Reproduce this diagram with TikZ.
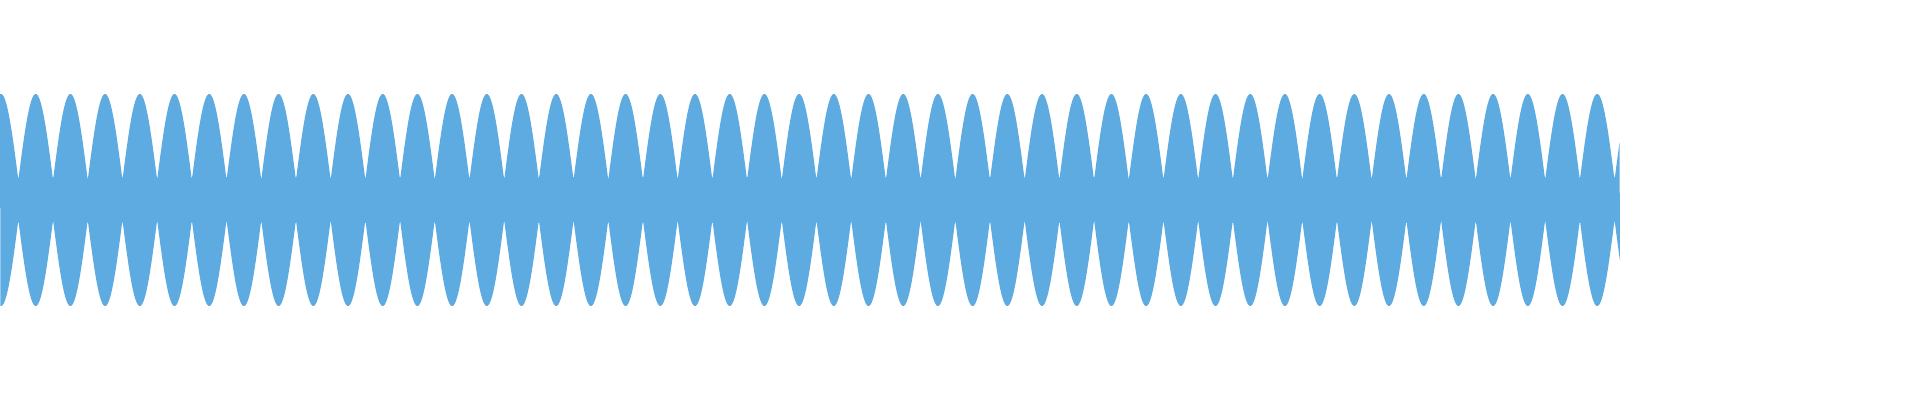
\documentclass[tikz,border=0pt]{standalone}
\definecolor{wave}{HTML}{5DABE1}
\begin{document}
\begin{tikzpicture}[x=1pt,y=-1pt]
\useasboundingbox (0,0) rectangle (1920,400);
\fill[wave] plot[domain=-0.0288:46.657,samples=2400,variable=\t] ({1+34.7*\t},{180-86*abs(cos(180*\t))})
  -- plot[domain=46.657:-0.0288,samples=2400,variable=\t] ({1+34.7*\t},{220+86*abs(cos(180*\t))}) -- cycle;
\end{tikzpicture}
\end{document}
